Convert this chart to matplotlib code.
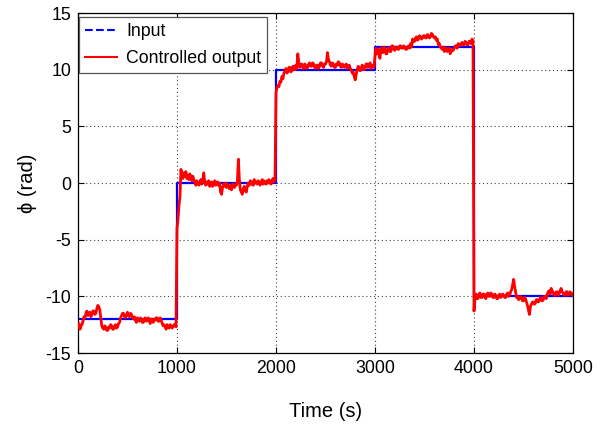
import matplotlib
matplotlib.use("Agg")
import matplotlib.pyplot as plt
from matplotlib.lines import Line2D
import numpy as np

plt.rcParams['font.family'] = ['Liberation Sans', 'DejaVu Sans']
plt.rcParams['axes.unicode_minus'] = False

# Input (reference) step signal
input_t = [0, 1000, 2000, 3000, 4000, 5000]
input_y = [-12, 0, 10, 12, -10, -10]

seg1 = [-12.7, -12.4, -12.9, -12.6, -12.5, -12.2, -11.8, -11.9, -11.5, -11.3,
        -11.7, -11.5, -11.4, -11.8, -11.6, -11.3, -11.3, -11.6, -11.5, -11.1,
        -10.8, -10.9, -11.2, -11.9, -12.6, -12.8, -12.9, -12.6, -12.7, -13.0,
        -13.0, -12.7, -12.8, -12.5, -12.6, -12.9, -12.9, -12.6, -12.5, -12.8,
        -12.7, -12.4, -12.3, -11.9, -11.7, -11.5, -11.5, -11.8, -11.9, -11.6,
        -11.4, -11.7, -11.8, -11.5, -11.6, -11.9, -12.0, -11.8, -12.1, -12.3,
        -11.9, -12.1, -12.2, -11.9, -12.0, -12.3, -12.3, -12.0, -11.9, -12.2,
        -12.1, -11.9, -12.2, -12.4, -12.0, -12.2, -12.3, -12.0, -12.1, -11.9,
        -11.9, -12.2, -12.2, -11.9, -12.1, -12.4, -12.6, -12.5, -12.7, -12.9,
        -12.5, -12.7, -12.8, -12.5, -12.6, -12.8, -12.7, -12.5, -12.5, -12.7]
seg2 = [-4.0, -3.2, -2.0, -1.2, 1.2, 0.6, 0.4, 0.9, 0.6, 1.0,
        0.4, 0.7, 0.3, 0.8, 0.5, 0.2, 0.6, 0.3, 0.1, -0.2,
        0.2, 0.0, -0.2, 0.1, 0.3, -0.1, 0.2, 0.9, 0.1, -0.2,
        0.1, -0.1, 0.2, -0.3, 0.0, 0.1, -0.3, -0.1, 0.2, -0.2,
        -0.1, 0.1, -0.2, 0.0, -0.8, -1.0, -0.4, -0.1, -0.3, 0.0,
        -0.4, -0.1, -0.3, -0.5, -0.2, -0.6, -0.1, -0.3, -0.4, -0.1,
        -0.2, 0.1, 2.1, 0.3, -0.6, -0.8, -1.0, -0.5, -0.3, -0.7,
        -0.8, -0.3, 0.0, -0.2, 0.2, -0.1, 0.1, -0.2, 0.3, 0.0,
        0.1, -0.1, 0.2, 0.0, -0.2, 0.1, 0.3, -0.1, 0.2, 0.0,
        -0.1, 0.2, 0.0, 0.3, 0.1, -0.1, 0.2, 0.4, 0.1, 0.2]
seg3 = [8.0, 8.4, 8.6, 8.5, 9.0, 8.9, 9.4, 9.2, 9.7, 9.9,
        10.1, 9.7, 9.8, 10.2, 10.2, 9.8, 9.9, 10.3, 10.3, 10.0,
        10.4, 10.1, 11.4, 10.7, 10.2, 10.4, 10.5, 10.2, 10.1, 10.5,
        10.4, 10.1, 10.2, 10.5, 10.6, 10.3, 10.3, 10.6, 10.5, 10.2,
        10.1, 10.4, 10.4, 10.1, 10.3, 10.6, 10.6, 10.3, 10.2, 10.5,
        10.5, 10.7, 11.5, 10.9, 10.7, 10.4, 10.3, 10.6, 10.5, 10.2,
        10.2, 10.5, 10.4, 10.7, 10.6, 10.3, 10.2, 10.5, 10.4, 10.2,
        10.3, 10.5, 10.1, 10.3, 10.4, 10.1, 10.0, 9.7, 9.8, 9.4,
        9.1, 9.6, 10.0, 10.3, 10.2, 9.9, 10.0, 10.4, 10.3, 10.0,
        10.1, 10.5, 10.5, 10.2, 10.3, 10.6, 10.1, 10.3, 10.4, 10.2]
seg4 = [11.2, 11.9, 11.4, 11.8, 11.3, 11.0, 11.9, 11.6, 11.5, 12.0,
        11.8, 11.4, 11.4, 11.9, 11.9, 11.6, 11.6, 12.1, 12.1, 11.8,
        11.7, 12.0, 12.0, 11.8, 11.8, 12.1, 12.1, 11.9, 11.9, 12.1,
        12.0, 11.8, 11.8, 12.0, 12.1, 11.9, 12.3, 12.0, 12.7, 12.5,
        12.5, 12.8, 12.9, 12.6, 12.7, 13.0, 12.9, 12.7, 12.8, 13.0,
        13.0, 12.8, 12.8, 13.1, 13.0, 12.8, 12.9, 13.2, 13.1, 12.9,
        12.8, 12.9, 12.6, 12.7, 12.2, 12.3, 12.0, 11.9, 11.8, 12.0,
        11.6, 11.9, 11.9, 11.6, 11.7, 11.9, 11.4, 11.6, 11.8, 11.7,
        11.9, 12.1, 12.1, 11.9, 12.3, 12.2, 12.1, 12.3, 12.4, 12.2,
        12.2, 12.5, 12.4, 12.2, 12.2, 12.5, 12.5, 12.3, 12.7, 12.6]
seg5 = [-11.3, -10.2, -9.8, -10.2, -10.2, -9.8, -9.7, -10.1, -10.1, -9.8,
        -9.8, -10.1, -10.2, -9.8, -9.7, -10.0, -10.0, -9.7, -9.8, -10.1,
        -10.1, -9.8, -9.9, -10.2, -10.2, -9.9, -9.8, -10.1, -10.0, -9.8,
        -9.9, -10.1, -10.1, -9.8, -9.7, -10.0, -9.9, -9.6, -9.4, -9.0,
        -8.5, -9.1, -9.6, -10.1, -10.0, -10.3, -10.2, -10.0, -10.1, -10.4,
        -10.4, -10.1, -10.2, -10.5, -10.8, -11.2, -11.6, -10.9, -10.7, -10.5,
        -10.5, -10.7, -10.6, -10.3, -10.3, -10.5, -10.4, -10.1, -10.2, -10.4,
        -10.3, -10.0, -10.0, -10.2, -9.8, -9.6, -9.5, -9.8, -9.3, -9.5,
        -9.7, -9.9, -9.9, -9.6, -9.6, -9.9, -9.8, -9.5, -9.3, -9.6,
        -9.7, -9.9, -9.9, -9.6, -9.6, -9.9, -9.8, -9.6, -9.7, -9.9,
        -9.8]
sample_step = 10

output_y = np.array(seg1 + seg2 + seg3 + seg4 + seg5)
output_t = np.arange(len(output_y)) * sample_step

fig = plt.figure(figsize=(6.11, 4.33), dpi=100)
ax = fig.add_axes([78/611, 1 - 353/433, (573-78)/611, (353-13)/433])

ax.plot(input_t, input_y, color='#0000ff', lw=1.6, drawstyle='steps-post', zorder=2)
ax.plot(output_t, output_y, color='#ff0000', lw=2.0, zorder=3)

ax.set_xlim(0, 5000)
ax.set_ylim(-15, 15)
ax.set_xticks([0, 1000, 2000, 3000, 4000, 5000])
ax.set_yticks([-15, -10, -5, 0, 5, 10, 15])
ax.tick_params(direction='in', top=True, right=True, length=4, width=0.8,
               labelsize=12.8, pad=5)
ax.grid(True, color='#444444', linestyle=(0, (1, 2.5)), linewidth=0.8)
for s in ax.spines.values():
    s.set_linewidth(0.9)

ax.set_xlabel('Time (s)', fontsize=14.5, labelpad=18)
ax.set_ylabel('ϕ (rad)', fontsize=14.5, labelpad=6)

handles = [Line2D([], [], color='#0000ff', ls='--', lw=1.5),
           Line2D([], [], color='#ff0000', lw=1.5)]
leg = ax.legend(handles, ['Input', 'Controlled output'], loc='upper left',
                bbox_to_anchor=(0.002, 0.988), borderaxespad=0, fontsize=12.8,
                handlelength=1.8, handletextpad=0.5, labelspacing=0.55,
                borderpad=0.35, fancybox=False, framealpha=1)
leg.get_frame().set_edgecolor('#555555')
leg.get_frame().set_linewidth(0.9)

fig.savefig('out.png', dpi=100)
